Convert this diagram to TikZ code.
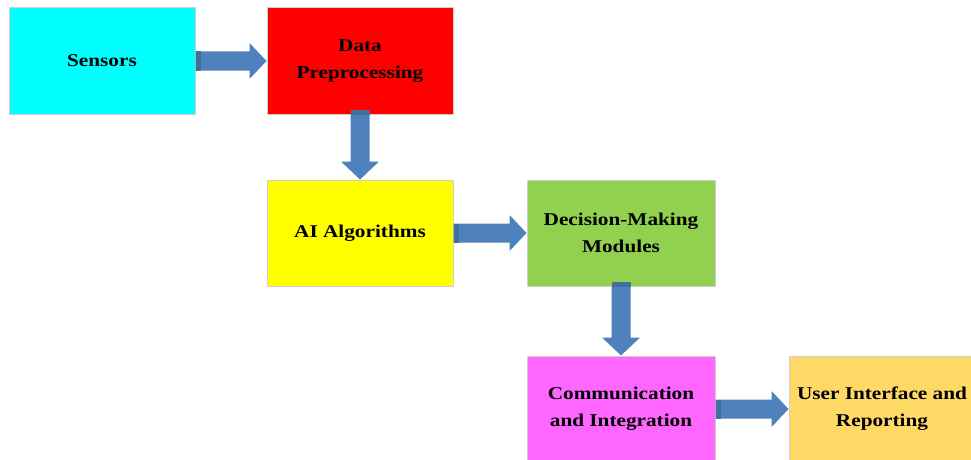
\documentclass[tikz,border=0pt]{standalone}
\usepackage{fontspec}
\newfontfamily\lblfont{Liberation Serif}[FakeStretch=1.18]
\usetikzlibrary{calc}

\definecolor{boxcyan}{HTML}{00FFFF}
\definecolor{boxred}{HTML}{FF0000}
\definecolor{boxyellow}{HTML}{FFFF00}
\definecolor{boxgreen}{HTML}{92D050}
\definecolor{boxpink}{HTML}{FF66FF}
\definecolor{boxgold}{HTML}{FFD966}
\definecolor{arrowblue}{HTML}{4F81BD}
\definecolor{arrowdark}{HTML}{41709F}
\definecolor{boxedge}{HTML}{D0D0D0}

\tikzset{
  stagebox/.style={draw=boxedge, line width=1pt, minimum width=186pt, minimum height=106pt,
    inner sep=0pt, align=center, text=black,
    font=\lblfont\bfseries\fontsize{18pt}{27pt}\selectfont},
}

% horizontal block arrow from the east side of #1 to the west side of #2
\newcommand{\hblockarrow}[2]{%
  \path let \p1=(#1.east), \p2=(#2.west) in
    [fill=arrowblue]
      (\x1,\y2+9.5pt) -- (\x2-17pt,\y2+9.5pt) -- (\x2-17pt,\y2+18pt) -- (\x2,\y2)
      -- (\x2-17pt,\y2-18pt) -- (\x2-17pt,\y2-9.5pt) -- (\x1,\y2-9.5pt) -- cycle;
  \path let \p1=(#1.east), \p2=(#2.west) in
    [fill=arrowdark] (\x1,\y2+9.5pt) rectangle (\x1+5pt,\y2-9.5pt);}
% vertical block arrow from the south side of #1 to the north side of #2
\newcommand{\vblockarrow}[2]{%
  \path let \p1=(#1.south), \p2=(#2.north) in
    [fill=arrowblue]
      (\x2-9.5pt,\y1) -- (\x2-9.5pt,\y2+18pt) -- (\x2-19pt,\y2+18pt) -- (\x2,\y2)
      -- (\x2+19pt,\y2+18pt) -- (\x2+9.5pt,\y2+18pt) -- (\x2+9.5pt,\y1) -- cycle;
  \path let \p1=(#1.south), \p2=(#2.north) in
    [fill=arrowdark] (\x2-9.5pt,\y1+5pt) rectangle (\x2+9.5pt,\y1);}

\begin{document}
\begin{tikzpicture}[x=1pt, y=-1pt]
  \useasboundingbox[fill=white] (0,0) rectangle (971,460);

  \node[stagebox, fill=boxcyan]   (sens) at (102,61)  {Sensors};
  \node[stagebox, fill=boxred]    (prep) at (360,61)  {Data\\Preprocessing};
  \node[stagebox, fill=boxyellow] (algo) at (360,233) {AI Algorithms};
  \node[stagebox, fill=boxgreen, minimum width=188pt] (deci) at (621,233) {Decision-Making\\Modules};
  \node[stagebox, fill=boxpink, minimum width=188pt]  (comm) at (621,409) {Communication\\and Integration};
  \node[stagebox, fill=boxgold]   (user) at (882,409) {User Interface and\\Reporting};

  \hblockarrow{sens}{prep}
  \vblockarrow{prep}{algo}
  \hblockarrow{algo}{deci}
  \vblockarrow{deci}{comm}
  \hblockarrow{comm}{user}
\end{tikzpicture}
\end{document}
